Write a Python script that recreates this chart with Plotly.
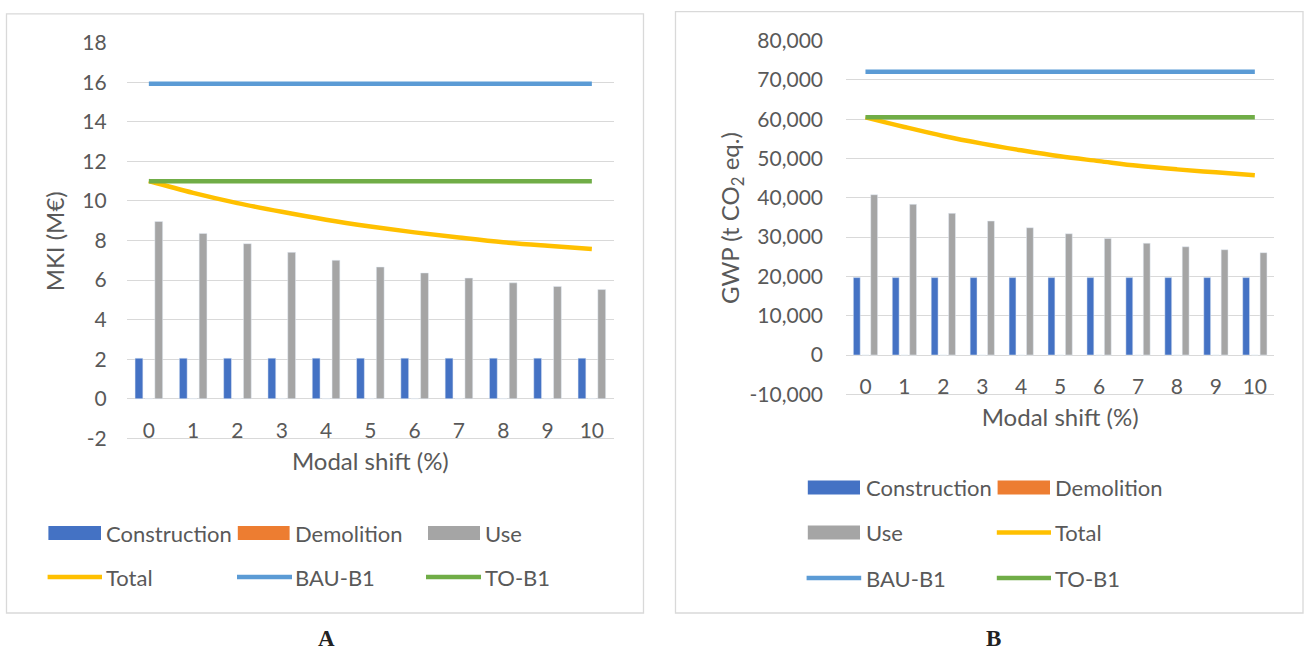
import plotly.graph_objects as go

W, H = 1304, 651

# Modal shift scenarios (%)
shift = ["0", "1", "2", "3", "4", "5", "6", "7", "8", "9", "10"]

# Panel A: MKI (M€)
mki_construction = [2.05, 2.05, 2.05, 2.05, 2.05, 2.05, 2.05, 2.05, 2.05, 2.05, 2.05]
mki_demolition = [0, 0, 0, 0, 0, 0, 0, 0, 0, 0, 0]
mki_use = [8.96, 8.36, 7.84, 7.40, 7.00, 6.66, 6.36, 6.10, 5.86, 5.68, 5.52]
mki_total = [11.01, 10.41, 9.89, 9.45, 9.05, 8.71, 8.41, 8.15, 7.91, 7.73, 7.57]
mki_bau_b1 = [15.92] * 11
mki_to_b1 = [11.0] * 11
mki_ticks = [-2, 0, 2, 4, 6, 8, 10, 12, 14, 16, 18]
mki_ticktext = ["-2", "0", "2", "4", "6", "8", "10", "12", "14", "16", "18"]

# Panel B: GWP (t CO2 eq.)
gwp_construction = [19700, 19700, 19700, 19700, 19700, 19700, 19700, 19700, 19700, 19700, 19700]
gwp_demolition = [0, 0, 0, 0, 0, 0, 0, 0, 0, 0, 0]
gwp_use = [40800, 38350, 36050, 34100, 32400, 30870, 29650, 28450, 27550, 26800, 26050]
gwp_total = [60500, 58050, 55750, 53800, 52100, 50570, 49350, 48150, 47250, 46500, 45750]
gwp_bau_b1 = [72100] * 11
gwp_to_b1 = [60500] * 11
gwp_ticks = [-10000, 0, 10000, 20000, 30000, 40000, 50000, 60000, 70000, 80000]
gwp_ticktext = ["-10,000", "0", "10,000", "20,000", "30,000", "40,000",
                "50,000", "60,000", "70,000", "80,000"]

C_CONS = "#4472C4"
C_DEMO = "#ED7D31"
C_USE = "#A5A5A5"
C_TOTAL = "#FFC000"
C_BAU = "#5B9BD5"
C_TO = "#70AD47"
TXT = "#595959"
GRID = "#D9D9D9"
FONT = "Lato"
FS_TICK = 21
FS_TITLE = 24
FS_LEG = 22
LW = 4.5


def px(x):
    return x / W


def py(y):
    return 1 - y / H


fig = go.Figure()


def add_panel(xa, ya, cons, demo, use, total, bau, to):
    kw = dict(xaxis=xa, yaxis=ya, showlegend=False)
    fig.add_trace(go.Bar(x=shift, y=cons, marker_color=C_CONS, name="Construction", **kw))
    fig.add_trace(go.Bar(x=shift, y=demo, marker_color=C_DEMO, name="Demolition", **kw))
    fig.add_trace(go.Bar(x=shift, y=use, marker_color=C_USE, name="Use", **kw))
    fig.add_trace(go.Scatter(x=shift, y=total, mode="lines", name="Total",
                             line=dict(color=C_TOTAL, width=LW, shape="spline", smoothing=1.0), **kw))
    fig.add_trace(go.Scatter(x=shift, y=bau, mode="lines", name="BAU-B1",
                             line=dict(color=C_BAU, width=LW), **kw))
    fig.add_trace(go.Scatter(x=shift, y=to, mode="lines", name="TO-B1",
                             line=dict(color=C_TO, width=LW), **kw))


add_panel("x", "y", mki_construction, mki_demolition, mki_use, mki_total, mki_bau_b1, mki_to_b1)
add_panel("x2", "y2", gwp_construction, gwp_demolition, gwp_use, gwp_total, gwp_bau_b1, gwp_to_b1)


def xaxis_cfg(domain, zero_y):
    # category labels hang just under the zero line
    return dict(
        domain=domain, anchor="free", position=py(zero_y), type="category",
        showgrid=False, zeroline=False, showline=False, ticks="",
        ticklabelstandoff=17, automargin=False,
        tickfont=dict(family=FONT, size=FS_TICK, color=TXT),
        title=dict(text="Modal shift (%)", font=dict(family=FONT, size=FS_TITLE, color=TXT), standoff=12),
        fixedrange=True,
    )


def yaxis_cfg(domain, anchor, rng, vals, text, title, lab_off, standoff):
    return dict(
        domain=domain, anchor=anchor, range=rng,
        tickvals=vals, ticktext=text,
        showgrid=True, gridcolor=GRID, gridwidth=1.3,
        zeroline=True, zerolinecolor=GRID, zerolinewidth=1.3,
        showline=False, ticks="", ticklabelstandoff=lab_off, automargin=False,
        tickfont=dict(family=FONT, size=FS_TICK, color=TXT),
        title=dict(text=title, font=dict(family=FONT, size=FS_TITLE, color=TXT), standoff=standoff),
        fixedrange=True,
    )


shapes = []
annotations = []

# panel frames
for x0, x1, y0, y1 in [(6.5, 643.5, 13.8, 613), (675.5, 1303, 11.7, 613)]:
    shapes.append(dict(type="rect", xref="paper", yref="paper",
                       x0=px(x0), x1=px(x1), y0=py(y1), y1=py(y0),
                       line=dict(color=GRID, width=1.3), fillcolor="rgba(0,0,0,0)", layer="below"))


def legend_item(kind, color, label, x0, x1, yc, tx):
    if kind == "bar":
        shapes.append(dict(type="rect", xref="paper", yref="paper",
                           x0=px(x0), x1=px(x1), y0=py(yc + 7), y1=py(yc - 7),
                           fillcolor=color, line=dict(width=0)))
    else:
        shapes.append(dict(type="line", xref="paper", yref="paper",
                           x0=px(x0), x1=px(x1), y0=py(yc), y1=py(yc),
                           line=dict(color=color, width=LW)))
    annotations.append(dict(xref="paper", yref="paper", x=px(tx), y=py(yc),
                            xanchor="left", yanchor="middle", showarrow=False,
                            text=label, font=dict(family=FONT, size=FS_LEG, color=TXT)))


# legend, panel A
legend_item("bar", C_CONS, "Construction", 48.4, 101, 533, 104)
legend_item("bar", C_DEMO, "Demolition", 237.8, 289.6, 533, 293)
legend_item("bar", C_USE, "Use", 428, 480, 533, 483)
legend_item("line", C_TOTAL, "Total", 47.6, 102, 577, 104)
legend_item("line", C_BAU, "BAU-B1", 237, 292, 577, 293)
legend_item("line", C_TO, "TO-B1", 426, 481, 577, 483)

# legend, panel B
legend_item("bar", C_CONS, "Construction", 807.8, 860, 487.4, 864)
legend_item("bar", C_DEMO, "Demolition", 997.6, 1050, 487.4, 1053)
legend_item("bar", C_USE, "Use", 807.8, 860, 532.4, 864)
legend_item("line", C_TOTAL, "Total", 996.8, 1051, 532.4, 1053)
legend_item("line", C_BAU, "BAU-B1", 806.6, 861.2, 578, 864)
legend_item("line", C_TO, "TO-B1", 996.8, 1051, 578, 1053)

# panel letters
for letter, x in [("A", 326), ("B", 993)]:
    annotations.append(dict(xref="paper", yref="paper", x=px(x), y=py(638),
                            xanchor="center", yanchor="middle", showarrow=False,
                            text="<b>%s</b>" % letter,
                            font=dict(family="Liberation Serif", size=23, color="#222222")))

# the y ranges reach a hair below the lowest tick so its gridline is kept
MKI_LO, GWP_LO = -2.08, -10300
mki_bottom = 438.3 + (-2 - MKI_LO) * (438.3 - 42.7) / 20
gwp_bottom = 394.3 + (-10000 - GWP_LO) * (394.3 - 40.7) / 90000

fig.update_layout(
    width=W, height=H,
    margin=dict(l=0, r=0, t=0, b=0, pad=0, autoexpand=False),
    paper_bgcolor="white", plot_bgcolor="rgba(0,0,0,0)",
    barmode="group", bargap=0.33, bargroupgap=0.21,
    xaxis=xaxis_cfg([px(126.7), px(614)], 399),
    yaxis=yaxis_cfg([py(mki_bottom), py(42.7)], "x", [MKI_LO, 18], mki_ticks, mki_ticktext,
                    "MKI (M€)", 19, 10),
    xaxis2=xaxis_cfg([px(846), px(1274.3)], 355),
    yaxis2=yaxis_cfg([py(gwp_bottom), py(40.7)], "x2", [GWP_LO, 80000], gwp_ticks, gwp_ticktext,
                     "GWP (t CO<sub>2</sub> eq.)", 22, 3),
    shapes=shapes,
    annotations=annotations,
    font=dict(family=FONT, size=FS_TICK, color=TXT),
)

fig.write_html("out.html")
